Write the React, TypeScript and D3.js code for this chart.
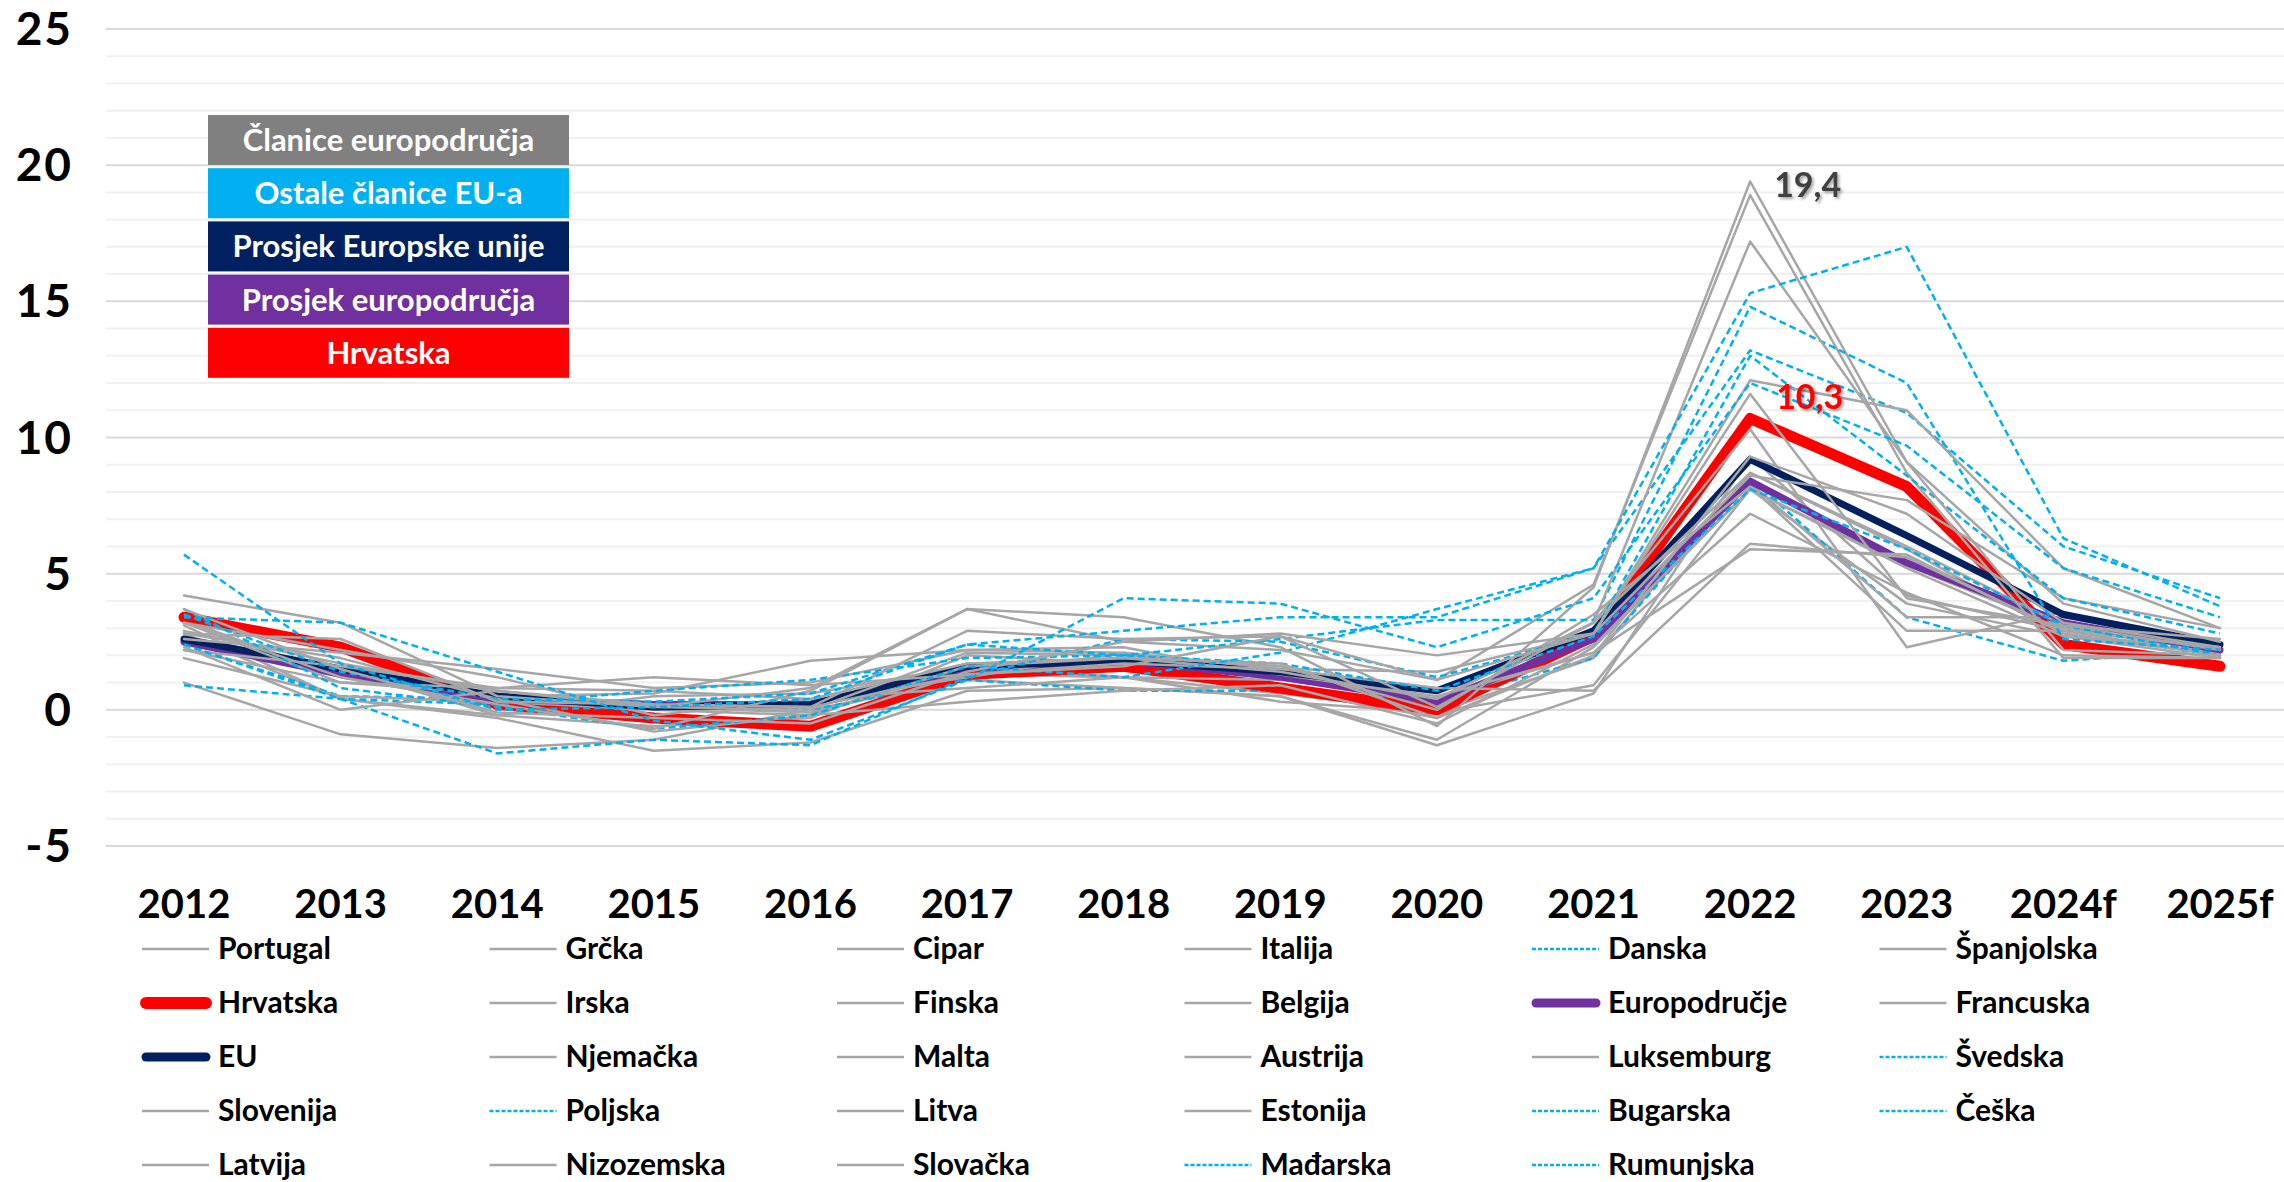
import React from "react";
import * as d3 from "d3";

// categories (x axis)
const years = ["2012", "2013", "2014", "2015", "2016", "2017", "2018", "2019", "2020", "2021", "2022", "2023", "2024f", "2025f"];
const yTicks = [-5, 0, 5, 10, 15, 20, 25];

// series values, in legend / drawing order
const portugal = [2.8, 0.4, -0.2, 0.5, 0.6, 1.6, 1.2, 0.3, -0.1, 0.9, 8.1, 5.3, 3.0, 2.2];
const grcka = [1.0, -0.9, -1.4, -1.1, 0.0, 1.1, 0.8, 0.5, -1.3, 0.6, 9.3, 4.2, 2.9, 2.0];
const cipar = [3.1, 0.4, -0.3, -1.5, -1.2, 0.7, 0.8, 0.5, -1.1, 2.3, 8.1, 3.9, 2.7, 2.3];
const italija = [3.3, 1.2, 0.2, 0.1, -0.1, 1.3, 1.2, 0.6, -0.1, 1.9, 8.7, 5.9, 2.7, 2.1];
const danska = [2.4, 0.5, 0.4, 0.2, 0.0, 1.1, 0.7, 0.7, 0.3, 1.9, 8.5, 3.4, 1.8, 2.2];
const spanjolska = [2.4, 1.5, -0.2, -0.6, -0.3, 2.0, 1.7, 0.8, -0.3, 3.0, 8.3, 3.4, 3.4, 2.4];
const hrvatska = [3.4, 2.3, 0.2, -0.3, -0.6, 1.3, 1.6, 0.8, 0.0, 2.7, 10.7, 8.2, 2.4, 1.6];
const irska = [1.9, 0.5, 0.3, 0.0, -0.2, 0.3, 0.7, 0.9, -0.5, 2.4, 8.1, 5.2, 2.7, 1.9];
const finska = [3.2, 2.2, 1.2, -0.2, 0.4, 0.8, 1.2, 1.1, 0.4, 2.1, 7.2, 4.3, 2.0, 1.9];
const belgija = [2.6, 1.2, 0.5, 0.6, 1.8, 2.2, 2.3, 1.2, 0.4, 3.2, 10.3, 2.3, 3.6, 2.1];
const europodrucje = [2.5, 1.3, 0.4, 0.2, 0.2, 1.5, 1.8, 1.2, 0.3, 2.6, 8.4, 5.4, 3.2, 2.2];
const francuska = [2.2, 1.0, 0.6, 0.1, 0.3, 1.2, 2.1, 1.3, 0.5, 2.1, 5.9, 5.7, 2.8, 2.0];
const eu = [2.6, 1.5, 0.5, 0.1, 0.2, 1.6, 1.8, 1.4, 0.7, 2.9, 9.2, 6.4, 3.5, 2.4];
const njemacka = [2.2, 1.6, 0.8, 0.7, 0.4, 1.7, 1.9, 1.4, 0.4, 3.2, 8.7, 6.0, 3.1, 2.2];
const malta = [3.2, 1.0, 0.8, 1.2, 0.9, 1.3, 1.7, 1.5, 0.8, 0.7, 6.1, 5.6, 2.9, 2.3];
const austrija = [2.6, 2.1, 1.5, 0.8, 1.0, 2.2, 2.1, 1.5, 1.4, 2.8, 8.6, 7.7, 4.1, 3.0];
const luksemburg = [2.9, 1.7, 0.7, 0.1, 0.0, 2.1, 2.0, 1.6, 0.0, 3.5, 8.2, 2.9, 2.9, 2.3];
const svedska = [0.9, 0.4, 0.2, 0.7, 1.1, 1.9, 2.0, 1.7, 0.7, 2.7, 8.1, 5.9, 3.1, 2.0];
const slovenija = [2.8, 1.9, 0.4, -0.8, -0.2, 1.6, 1.9, 1.7, -0.3, 2.0, 9.3, 7.2, 3.2, 2.3];
const poljska = [3.7, 0.8, 0.1, -0.7, -0.2, 1.6, 1.2, 2.1, 3.7, 5.2, 13.2, 10.9, 6.0, 4.1];
const litva = [3.2, 1.2, 0.2, -0.7, 0.7, 3.7, 2.5, 2.2, 1.1, 4.6, 18.9, 8.7, 1.9, 1.9];
const estonija = [4.2, 3.2, 0.5, 0.1, 0.8, 3.7, 3.4, 2.3, -0.6, 4.5, 19.4, 9.1, 3.9, 2.5];
const bugarska = [2.4, 0.4, -1.6, -1.1, -1.3, 1.2, 2.6, 2.5, 1.2, 2.8, 13.0, 8.6, 4.1, 2.8];
const ceska = [3.5, 1.4, 0.4, 0.3, 0.6, 2.4, 2.0, 2.6, 3.3, 3.3, 14.8, 12.0, 2.6, 2.2];
const latvija = [2.3, 0.0, 0.7, 0.2, 0.1, 2.9, 2.6, 2.7, 0.1, 3.2, 17.2, 9.1, 2.2, 2.0];
const nizozemska = [2.8, 2.6, 0.3, 0.2, 0.1, 1.3, 1.6, 2.7, 1.1, 2.8, 11.6, 4.1, 3.1, 2.6];
const slovacka = [3.7, 1.5, -0.1, -0.3, -0.5, 1.4, 2.5, 2.8, 2.0, 2.8, 12.1, 11.0, 5.2, 3.0];
const madarska = [5.7, 1.7, 0.0, 0.1, 0.4, 2.4, 2.9, 3.4, 3.4, 5.2, 15.3, 17.0, 6.3, 3.8];
const rumunjska = [3.4, 3.2, 1.4, -0.4, -1.1, 1.1, 4.1, 3.9, 2.3, 4.1, 12.0, 9.7, 5.2, 3.4];

// group boxes in the upper left
const groupLabels = ["Članice europodručja", "Ostale članice EU-a", "Prosjek Europske unije", "Prosjek europodručja", "Hrvatska"];

const styles = {
  ea: { stroke: "#a6a6a6", width: 2.5, dash: null },
  other: { stroke: "#00b0f0", width: 2.5, dash: "7 4" },
  hr: { stroke: "#ff0000", width: 11, dash: null },
  eu: { stroke: "#002060", width: 7, dash: null },
  euro: { stroke: "#7030a0", width: 7, dash: null },
};
const groupColors = ["#808080", "#00b0f0", "#002060", "#7030a0", "#ff0000"];

const series = [
  { name: "Portugal", values: portugal, kind: "ea" },
  { name: "Grčka", values: grcka, kind: "ea" },
  { name: "Cipar", values: cipar, kind: "ea" },
  { name: "Italija", values: italija, kind: "ea" },
  { name: "Danska", values: danska, kind: "other" },
  { name: "Španjolska", values: spanjolska, kind: "ea" },
  { name: "Hrvatska", values: hrvatska, kind: "hr" },
  { name: "Irska", values: irska, kind: "ea" },
  { name: "Finska", values: finska, kind: "ea" },
  { name: "Belgija", values: belgija, kind: "ea" },
  { name: "Europodručje", values: europodrucje, kind: "euro" },
  { name: "Francuska", values: francuska, kind: "ea" },
  { name: "EU", values: eu, kind: "eu" },
  { name: "Njemačka", values: njemacka, kind: "ea" },
  { name: "Malta", values: malta, kind: "ea" },
  { name: "Austrija", values: austrija, kind: "ea" },
  { name: "Luksemburg", values: luksemburg, kind: "ea" },
  { name: "Švedska", values: svedska, kind: "other" },
  { name: "Slovenija", values: slovenija, kind: "ea" },
  { name: "Poljska", values: poljska, kind: "other" },
  { name: "Litva", values: litva, kind: "ea" },
  { name: "Estonija", values: estonija, kind: "ea" },
  { name: "Bugarska", values: bugarska, kind: "other" },
  { name: "Češka", values: ceska, kind: "other" },
  { name: "Latvija", values: latvija, kind: "ea" },
  { name: "Nizozemska", values: nizozemska, kind: "ea" },
  { name: "Slovačka", values: slovacka, kind: "ea" },
  { name: "Mađarska", values: madarska, kind: "other" },
  { name: "Rumunjska", values: rumunjska, kind: "other" },
];

const W = 2284;
const H = 1182;
const FONT = "Lato, 'Open Sans', sans-serif";

export default function App() {
  const x = d3.scalePoint().domain(years).range([184, 2220]);
  const y = d3.scaleLinear().domain([-5, 25]).range([846, 29]);

  const line = d3
    .line<number>()
    .x((_, i) => x(years[i]) as number)
    .y((d) => y(d));

  const gridVals = d3.range(-5, 26);

  // annotated points
  const peakX = x("2022") as number;

  return (
    <svg width={W} height={H} style={{ position: "absolute", left: 0, top: 0, background: "#fff" }} fontFamily={FONT}>
      <defs>
        <filter id="shadow" x="-20%" y="-20%" width="140%" height="140%">
          <feDropShadow dx="2" dy="2" stdDeviation="1.5" floodColor="#000" floodOpacity="0.35" />
        </filter>
      </defs>

      {/* grid */}
      {gridVals.map((v) => (
        <line
          key={v}
          x1={106}
          x2={W}
          y1={y(v)}
          y2={y(v)}
          stroke={v % 5 === 0 ? "#d9d9d9" : "#f0f0f0"}
          strokeWidth={2}
        />
      ))}

      {/* y axis labels */}
      {yTicks.map((v) => (
        <text key={v} x={73} y={y(v) + 16} textAnchor="end" fontSize={46} fontWeight={700} fill="#000" letterSpacing={2}>
          {v}
        </text>
      ))}

      {/* x axis labels */}
      {years.map((yr) => (
        <text key={yr} x={x(yr)} y={918} textAnchor="middle" fontSize={40} fontWeight={700} fill="#000">
          {yr}
        </text>
      ))}

      {/* series */}
      {series.map((s) => {
        const st = styles[s.kind];
        return (
          <path
            key={s.name}
            d={line(s.values) as string}
            fill="none"
            stroke={st.stroke}
            strokeWidth={st.width}
            strokeDasharray={st.dash || undefined}
            strokeLinejoin="round"
            strokeLinecap={st.dash ? "butt" : "round"}
          />
        );
      })}

      {/* annotations */}
      <text x={peakX + 24} y={y(19.4) + 15} fontSize={34} fontWeight={700} fill="#404040" filter="url(#shadow)">
        19,4
      </text>
      <text x={peakX + 26} y={409} fontSize={34} fontWeight={700} fill="#ff0000" filter="url(#shadow)">
        10,3
      </text>

      {/* group boxes */}
      {groupLabels.map((g, i) => {
        const top = 115 + i * 53.2;
        return (
          <g key={g}>
            <rect x={208} y={top} width={361} height={50} fill={groupColors[i]} />
            <text x={388.5} y={top + 36} textAnchor="middle" fontSize={31} fontWeight={700} fill="#fff">
              {g}
            </text>
          </g>
        );
      })}

      {/* legend */}
      {series.map((s, i) => {
        const r = Math.floor(i / 6);
        const c = i % 6;
        const tx = 218 + c * 347.5;
        const ty = 949 + r * 54;
        const st = styles[s.kind];
        const thick = st.width > 3;
        return (
          <g key={s.name}>
            <line
              x1={tx - (thick ? 72 : 76)}
              x2={tx - (thick ? 12 : 9)}
              y1={ty}
              y2={ty}
              stroke={st.stroke}
              strokeWidth={s.kind === "hr" ? 12 : thick ? 9 : 2.5}
              strokeDasharray={st.dash ? "4 2" : undefined}
              strokeLinecap={thick ? "round" : "butt"}
            />
            <text x={tx} y={ty + 10} fontSize={30} fontWeight={700} fill="#000">
              {s.name}
            </text>
          </g>
        );
      })}
    </svg>
  );
}
